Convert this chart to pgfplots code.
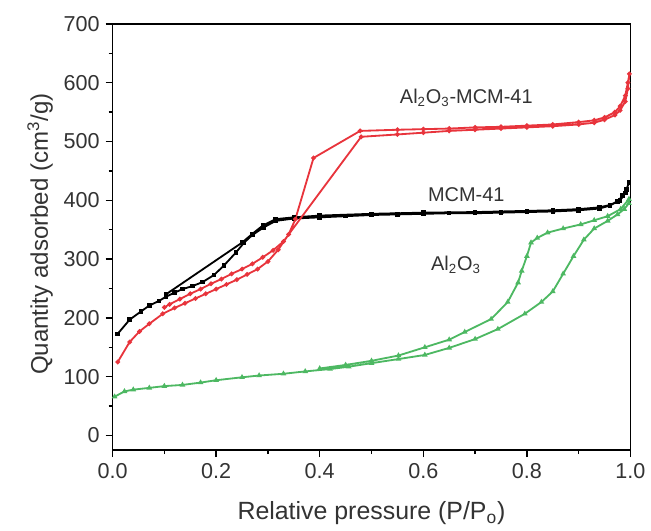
\documentclass[border=0pt]{standalone}
\usepackage{fontspec}
\setmainfont{Liberation Sans}
\usepackage{pgfplots}
\pgfplotsset{compat=1.18}
\definecolor{isored}{HTML}{E8343C}
\definecolor{isogreen}{HTML}{4DB862}
\definecolor{txtgray}{HTML}{333333}

\begin{document}
\begin{tikzpicture}
\begin{axis}[
  width=312pt, height=256.8pt,
  scale only axis,
  xmin=0, xmax=1, ymin=-25, ymax=700,
  xtick={0,0.2,...,1.0}, minor x tick num=1,
  ytick={0,100,...,700}, minor y tick num=1,
  xtick pos=bottom, ytick pos=left,
  tick align=outside,
  major tick length=4.2pt, minor tick length=2.4pt,
  axis line style={line width=1pt},
  every tick/.style={line width=0.9pt, black},
  /pgf/number format/assume math mode=true,
  xticklabel style={/pgf/number format/.cd, fixed, fixed zerofill, precision=1},
  yticklabel style={/pgf/number format/.cd, fixed},
  tick label style={font=\fontsize{13}{15}\selectfont, text=txtgray},
  xlabel={Relative pressure (P/P\textsubscript{o})},
  ylabel={Quantity adsorbed (cm\textsuperscript{3}/g)},
  every axis x label/.style={at={(axis description cs:0.5,-0.163)}, anchor=base,
    font=\fontsize{15}{18}\selectfont, text=txtgray},
  every axis y label/.style={at={(axis description cs:-0.125,0.507)}, anchor=base, rotate=90,
    font=\fontsize{14.5}{17}\selectfont, text=txtgray},
  clip=false,
]
% MCM-41
\addplot[black, line width=1.1pt, mark=square*, mark size=0.8pt] coordinates {
 (0.010,173) (0.033,197) (0.055,211) (0.071,221) (0.090,229) (0.103,236)
 (0.120,243) (0.135,249) (0.154,254) (0.174,261) (0.196,273) (0.215,289)
 (0.238,311) (0.254,328) (0.270,341) (0.292,354) (0.315,365) (0.350,369)
 (0.400,371) (0.450,373) (0.500,375) (0.550,376) (0.600,377) (0.650,378)
 (0.700,378) (0.750,379) (0.800,380) (0.850,381) (0.900,383) (0.940,386)
 (0.960,391) (0.975,398) (0.985,408) (0.992,418) (0.997,430)
 (0.990,412) (0.980,400) (0.960,392) (0.940,388) (0.900,385) (0.850,383)
 (0.800,382) (0.700,380) (0.600,379) (0.500,377) (0.400,374) (0.350,371)
 (0.315,368) (0.290,357) (0.270,343) (0.250,328) (0.103,240)
};
% Al2O3-MCM-41
\addplot[isored, line width=1.1pt, mark=*, mark size=0.8pt] coordinates {
 (0.010,125) (0.033,159) (0.052,177) (0.071,190) (0.097,207) (0.120,217)
 (0.140,225) (0.160,233) (0.180,241) (0.200,249) (0.220,257) (0.240,265)
 (0.260,274) (0.280,283) (0.300,296) (0.320,316) (0.340,342) (0.353,368)
 (0.388,472) (0.478,518) (0.550,520) (0.600,521) (0.650,522) (0.700,524)
 (0.750,525) (0.800,527) (0.850,529) (0.900,533) (0.930,536) (0.950,541)
 (0.970,550) (0.980,560) (0.990,578) (0.995,600) (0.998,615)
 (0.995,590) (0.990,568) (0.980,553) (0.970,545) (0.950,537) (0.930,532)
 (0.900,529) (0.850,526) (0.800,524) (0.750,522) (0.700,520) (0.650,518)
 (0.600,515) (0.550,512) (0.480,508) (0.330,330) (0.310,315) (0.290,303)
 (0.270,292) (0.250,283) (0.230,275) (0.210,266) (0.190,258) (0.170,249)
 (0.150,241) (0.130,232) (0.110,223) (0.100,218)
};
% Al2O3
\addplot[isogreen, line width=1.1pt, mark=triangle*, mark size=0.9pt] coordinates {
 (0.004,66) (0.023,75) (0.040,78) (0.071,81) (0.100,84) (0.135,86)
 (0.170,90) (0.200,94) (0.250,99) (0.283,102) (0.330,105) (0.372,109)
 (0.420,113) (0.456,117) (0.500,123) (0.552,130) (0.603,137) (0.650,149)
 (0.700,164) (0.744,181) (0.796,207) (0.828,227) (0.850,245) (0.870,275)
 (0.890,305) (0.910,333) (0.930,352) (0.956,365) (0.975,376) (0.988,385)
 (0.997,395)
 (0.997,402) (0.981,385) (0.956,373) (0.930,366) (0.904,359) (0.870,352)
 (0.840,345) (0.820,336) (0.808,328) (0.800,305) (0.790,280) (0.783,260)
 (0.763,227) (0.731,198) (0.680,176) (0.650,163) (0.603,150) (0.552,136)
 (0.500,127) (0.450,120) (0.400,114)
};
\node[text=txtgray, font=\fontsize{12}{14}\selectfont] at (axis cs:0.683,575) {Al\textsubscript{2}O\textsubscript{3}-MCM-41};
\node[text=txtgray, font=\fontsize{12}{14}\selectfont] at (axis cs:0.683,410) {MCM-41};
\node[text=txtgray, font=\fontsize{12}{14}\selectfont] at (axis cs:0.663,291) {Al\textsubscript{2}O\textsubscript{3}};
\end{axis}
\path (current axis.south west) ++(-67.8pt,-46.2pt) coordinate (bbsw);
\path (current axis.north east) ++(10.8pt,14.4pt) coordinate (bbne);
\path (bbsw) rectangle (bbne);
\end{tikzpicture}
\end{document}
